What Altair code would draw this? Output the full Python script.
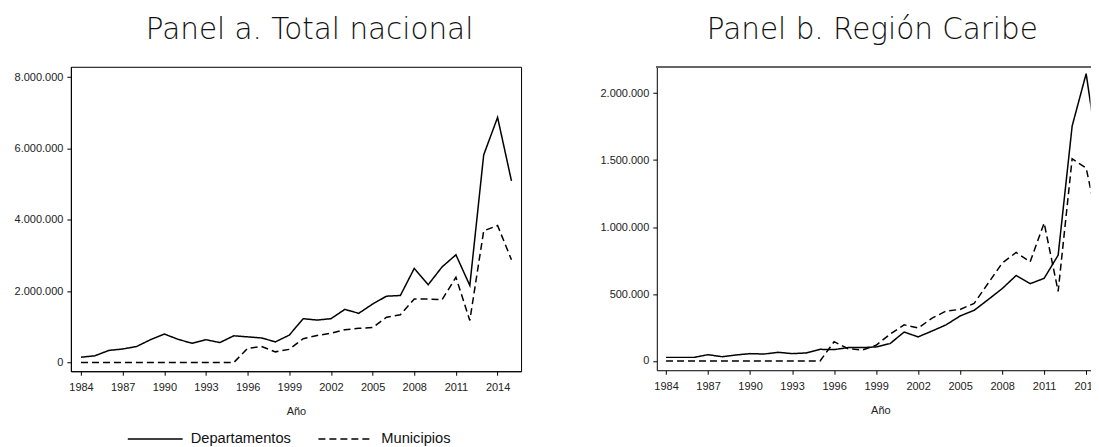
import altair as alt
import pandas as pd

years = list(range(1984, 2016))

a_dep = [150000, 190000, 340000, 380000, 450000, 640000, 800000, 650000, 540000, 640000,
         560000, 750000, 720000, 690000, 580000, 770000, 1230000, 1190000, 1230000, 1490000,
         1380000, 1640000, 1860000, 1880000, 2640000, 2180000, 2680000, 3020000, 2160000,
         5820000, 6870000, 5090000]
a_mun = [0, 0, 0, 0, 0, 0, 0, 0, 0, 0,
         0, 0, 400000, 450000, 300000, 370000, 670000, 760000, 820000, 920000,
         960000, 980000, 1270000, 1340000, 1780000, 1780000, 1760000, 2390000, 1180000,
         3690000, 3840000, 2880000]

b_dep = [27000, 27000, 27000, 47000, 32000, 45000, 55000, 52000, 65000, 55000,
         60000, 87000, 85000, 100000, 100000, 105000, 130000, 216000, 180000, 224000,
         270000, 336000, 378000, 458000, 540000, 638000, 577000, 617000, 790000,
         1754000, 2145000, 1430000]
b_mun = [0, 0, 0, 0, 0, 0, 0, 0, 0, 0,
         0, 0, 144000, 92000, 82000, 117000, 200000, 270000, 246000, 320000,
         373000, 385000, 430000, 580000, 730000, 810000, 740000, 1030000, 520000,
         1510000, 1440000, 945000]

series = ["Departamentos", "Municipios"]
x_ticks = [1984, 1987, 1990, 1993, 1996, 1999, 2002, 2005, 2008, 2011, 2014]
a_yticks = [0, 2000000, 4000000, 6000000, 8000000]
b_yticks = [0, 500000, 1000000, 1500000, 2000000]


def frame(dep, mun):
    return pd.DataFrame({
        "year": years * 2,
        "value": dep + mun,
        "serie": [series[0]] * len(years) + [series[1]] * len(years),
    })


label_expr = "replace(format(datum.value, ','), regexp(',', 'g'), '.')"


def panel(df, title, xdomain, ydomain, yticks, width, height, title_dx, clip, full_frame, xtitle_x=None):
    axis_kw = dict(values=x_ticks, format="d", tickSize=4, labelPadding=6,
                   titlePadding=13, labelFlush=False)
    if xtitle_x is not None:
        axis_kw["titleX"] = xtitle_x
    x = alt.X("year:Q", title="Año",
              scale=alt.Scale(domain=xdomain, nice=False, zero=False),
              axis=alt.Axis(**axis_kw))
    y = alt.Y("value:Q", title=None,
              scale=alt.Scale(domain=ydomain, nice=False, zero=False),
              axis=alt.Axis(values=yticks, labelExpr=label_expr, tickSize=4, labelPadding=4))
    dash = alt.StrokeDash(
        "serie:N",
        scale=alt.Scale(domain=series, range=[[1, 0], [7, 4]]),
        legend=alt.Legend(
            title=None, orient="none", direction="horizontal",
            legendX=56, legendY=344,
            symbolType="stroke", symbolSize=3025, symbolStrokeWidth=1.4,
            symbolStrokeColor="black", labelFontSize=14.7, labelFont="Liberation Sans",
            labelColor="#111", columnPadding=24, labelOffset=7,
        ),
    )
    lines = alt.Chart(df).mark_line(color="black", strokeWidth=1.5, clip=clip).encode(
        x=x, y=y, strokeDash=dash, detail="serie:N")
    layers = [lines]
    if not full_frame:
        top = alt.Chart(df).mark_rule(color="#666", strokeWidth=1.2).encode(y=alt.value(0))
        layers.append(top)
    ch = alt.layer(*layers).properties(
        width=width, height=height,
        title=alt.TitleParams(title, font="DejaVu Sans", fontWeight=200, fontSize=29.5,
                              color="#111", anchor="middle", frame="group",
                              dx=title_dx, offset=21),
        view=alt.ViewBackground(stroke="black" if full_frame else None, strokeWidth=1),
    )
    return ch


pa = panel(frame(a_dep, a_mun), "Panel a. Total nacional",
           [1983.27, 2015.69], [-243000, 8288000], a_yticks,
           451, 305, 13.6, False, True)
pb = panel(frame(b_dep, b_mun), "Panel b. Región Caribe",
           [1983.34, 2014.31], [-69000, 2196000], b_yticks,
           434.5, 304, -1.3, True, False, xtitle_x=224)

chart = alt.hconcat(pa, pb, spacing=78).properties(
    padding={"left": 5, "top": 5.5, "right": -8, "bottom": 0}
).configure_axis(
    labelFont="Liberation Sans", labelFontSize=11, labelColor="#222",
    titleFont="Liberation Sans", titleFontSize=11, titleFontWeight="normal", titleColor="#222",
    tickColor="black", domainColor="black", grid=False,
).configure_view(stroke=None)

chart.save("out.html", embed_options={"renderer": "svg", "actions": False})
